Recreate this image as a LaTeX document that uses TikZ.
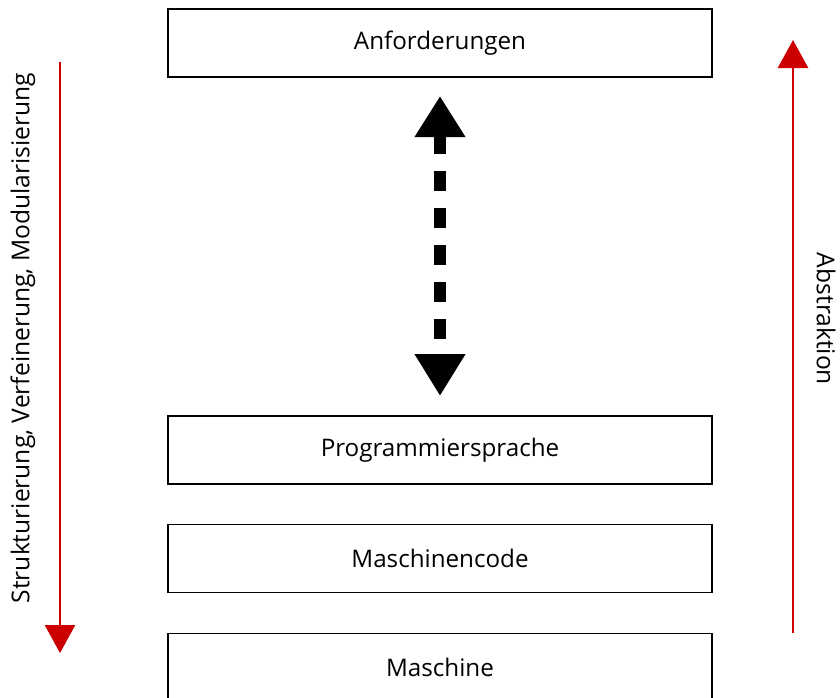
\documentclass[tikz,border=0pt]{standalone}
\usepackage{fontspec}
\setmainfont{Open Sans}
\usetikzlibrary{positioning,arrows.meta}
\definecolor{arrowred}{HTML}{CC0000}
\tikzset{
  layer/.style={draw=black,line width=1.2pt,minimum width=544pt,minimum height=68pt,
    inner sep=0pt,font=\fontsize{24.2}{29}\selectfont},
  redarrow/.style={draw=arrowred,line width=2.6pt,-{Triangle[length=28pt,width=30pt,fill=arrowred]}},
  bigarrow/.style={draw=black,line width=12pt,dash pattern=on 20pt off 17pt,
    {Triangle[length=41pt,width=48pt]}-{Triangle[length=42pt,width=48pt]}},
  sidetext/.style={font=\fontsize{24.6}{29}\selectfont}
}
\begin{document}
\begin{tikzpicture}[x=1pt,y=-1pt]
  \useasboundingbox (0,0) rectangle (840,697);

  \node [layer] (anf) at (440,43) {Anforderungen};
  \node [layer] (prog) at (440,450) {Programmiersprache};
  \node [layer,below=39pt of prog] (mcode) {Maschinencode};
  \node [layer,below=40pt of mcode] (masch) {Maschine};

  % dashed double arrow between requirements and language
  \coordinate (dtop) at (440,96);
  \coordinate (dbot) at (440,396);
  \draw [bigarrow] (dtop) -- (dbot);

  % left: refinement, right: abstraction
  \coordinate (ltop) at (60,62);
  \coordinate (lbot) at (60,653);
  \draw [redarrow] (ltop) -- (lbot);
  \coordinate (rbot) at (793,633);
  \coordinate (rtop) at (793,40);
  \draw [redarrow] (rbot) -- (rtop);

  \node [sidetext,rotate=90] (struk) at (23,338) {Strukturierung, Verfeinerung, Modularisierung};
  \node [sidetext,rotate=-90] (abst) at (826,319) {Abstraktion};
\end{tikzpicture}
\end{document}
